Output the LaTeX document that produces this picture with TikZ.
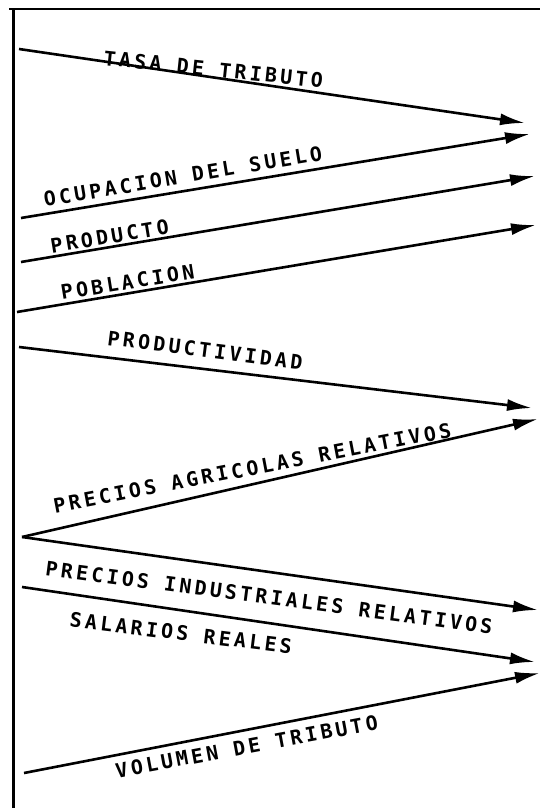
\documentclass[tikz,border=0pt]{standalone}
\usepackage{fontspec}
\newfontfamily\leroy[LetterSpace=16.5]{DejaVu Sans Mono}
\usetikzlibrary{arrows.meta}

\begin{document}
\begin{tikzpicture}[x=1pt, y=-1pt,
    flecha/.style={-{Latex[length=25pt, width=12pt]}, line width=2.6pt},
    rotulo/.style={font=\leroy\bfseries\fontsize{20}{21}\selectfont, inner sep=0pt, anchor=base west}]
  \useasboundingbox (0,0) rectangle (540,808);
  % marco
  \draw[line width=2pt] (9,9.5) -- (540,9.5);
  \draw[line width=3.5pt] (13.5,8.5) -- (13.5,808);
  % origenes y puntas
  \coordinate (tasa0) at (19,49);   \coordinate (tasa1) at (525,123);
  \coordinate (ocup0) at (21,218);  \coordinate (ocup1) at (530,134);
  \coordinate (prod0) at (21,262);  \coordinate (prod1) at (535,176);
  \coordinate (pobl0) at (17,312);  \coordinate (pobl1) at (536,225);
  \coordinate (pdad0) at (19,347);  \coordinate (pdad1) at (532,408);
  \coordinate (prec0) at (22,537);
  \coordinate (pagr1) at (538,419); \coordinate (pind1) at (538,610);
  \coordinate (sal0) at (22,587);   \coordinate (sal1) at (535,662);
  \coordinate (vol0) at (24,773);   \coordinate (vol1) at (540,673);
  % flechas
  \draw[flecha] (tasa0) -- (tasa1);
  \draw[flecha] (ocup0) -- (ocup1);
  \draw[flecha] (prod0) -- (prod1);
  \draw[flecha] (pobl0) -- (pobl1);
  \draw[flecha] (pdad0) -- (pdad1);
  \draw[flecha] (prec0) -- (pagr1);
  \draw[flecha] (prec0) -- (pind1);
  \draw[flecha] (sal0) -- (sal1);
  \draw[flecha] (vol0) -- (vol1);
  % rotulos
  \node[rotulo, rotate=-6] (tasa) at (103,65) {TASA DE TRIBUTO};
  \node[rotulo, rotate=9.5] (ocup) at (45,206.7) {OCUPACION DEL SUELO};
  \node[rotulo, rotate=9.4] (prod) at (51.7,253.3) {PRODUCTO};
  \node[rotulo, rotate=9.2] (pobl) at (62,300) {POBLACION};
  \node[rotulo, rotate=-7.2] (pdad) at (106.7,345) {PRODUCTIVIDAD};
  \node[rotulo, rotate=10.9] (pagr) at (55,513.3) {PRECIOS AGRICOLAS RELATIVOS};
  \node[rotulo, rotate=-7.5] (pind) at (44.8,575) {PRECIOS INDUSTRIALES RELATIVOS};
  \node[rotulo, rotate=-7] (sal) at (68.9,626.7) {SALARIOS REALES};
  \node[rotulo, rotate=10.6] (vol) at (117,778.3) {VOLUMEN DE TRIBUTO};
\end{tikzpicture}
\end{document}
